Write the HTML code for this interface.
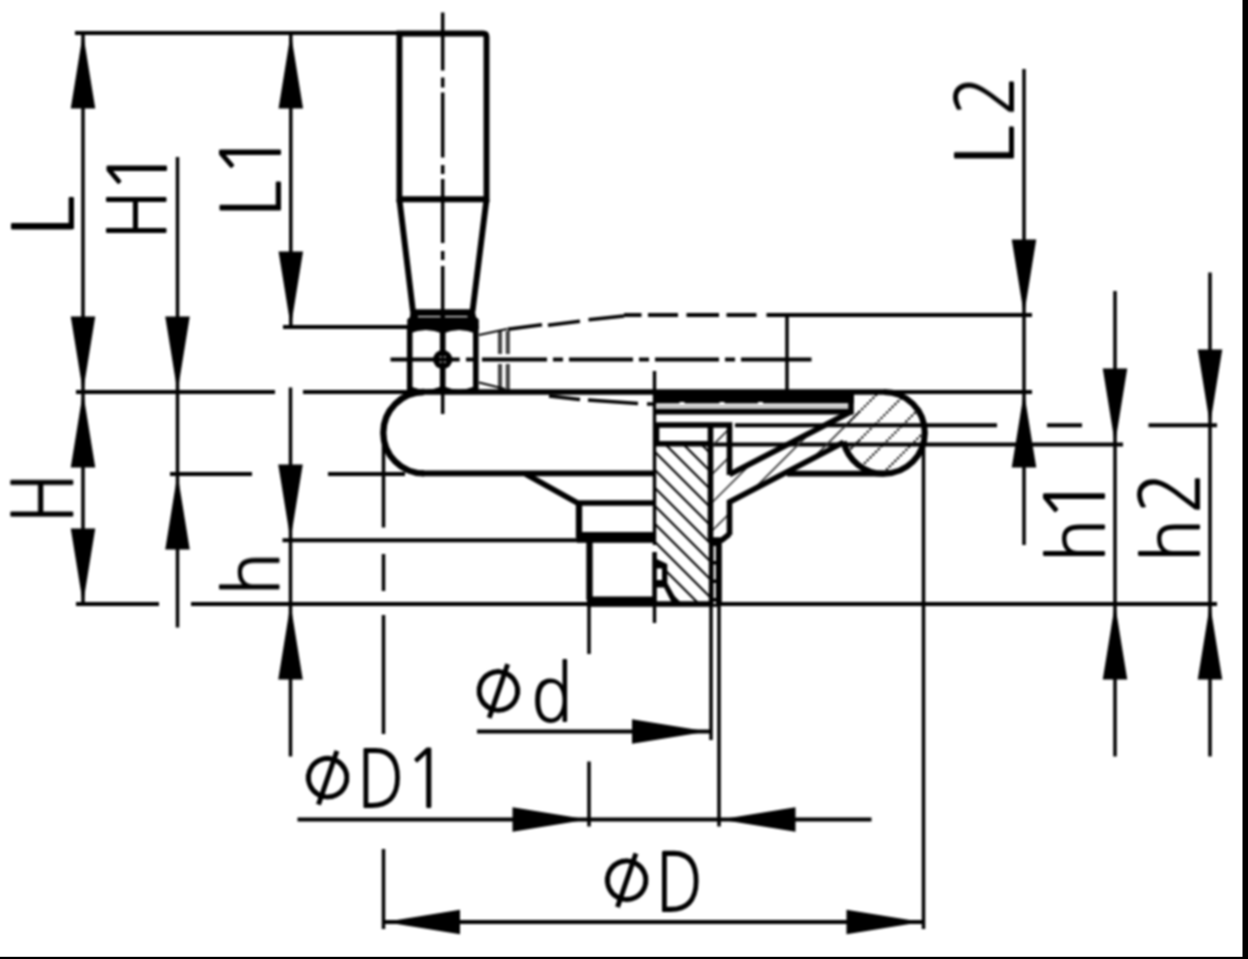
<!DOCTYPE html>
<html lang="en">
<head>
<meta charset="utf-8">
<title>Handwheel with folding handle – dimension drawing</title>
<style>
html,body{margin:0;padding:0;background:#fff;overflow:hidden}
body{width:1248px;height:959px}
svg{display:block;width:1248px;height:959px}
.t{stroke:#000;stroke-width:3.5;fill:none}
.th{stroke:#000;stroke-width:3.9;fill:none}
.k{stroke:#000;stroke-width:5.6;fill:none;stroke-linejoin:miter}
.h{stroke:#000;stroke-width:2.1;fill:none}
.h2{stroke:#333;stroke-width:1.7;fill:none}
.g{stroke:#444;stroke-width:4.2;fill:none}
.a{fill:#000;stroke:none}
.f{fill:#000;stroke:none}
.w{fill:#fff;stroke:none}
.lb{font-family:"NanumGothic","DejaVu Sans","Liberation Sans",sans-serif;font-size:80px;fill:#000}
.dia{font-family:"DejaVu Sans","Liberation Sans",sans-serif;fill:#000;stroke:#fff;stroke-width:0.7px;stroke-linejoin:round}
</style>
</head>
<body>
<svg width="1248" height="959" viewBox="0 0 1248 959" role="img" aria-label="Dimension drawing of a handwheel with folding handle">
<rect class="w" x="0" y="0" width="1248" height="959"/>
<defs>
<filter id="soft" x="0" y="0" width="1248" height="959" filterUnits="userSpaceOnUse" color-interpolation-filters="sRGB"><feConvolveMatrix order="5" kernelMatrix="1 3 4 3 1 3 9 12 9 3 4 12 16 12 4 3 9 12 9 3 1 3 4 3 1" divisor="144" edgeMode="duplicate" preserveAlpha="false"/></filter>
</defs>
<g filter="url(#soft)">
<text class="lb" transform="translate(73.5,229.3) rotate(-90)"><tspan x="-8.18" y="0" font-size="84.85" textLength="41.69" lengthAdjust="spacingAndGlyphs">L</tspan></text>
<text class="lb" transform="translate(166.6,233) rotate(-90)"><tspan x="-7.03" y="0" font-size="81.89" textLength="49.85" lengthAdjust="spacingAndGlyphs">H</tspan><tspan x="37.41" y="0" font-size="81.89" textLength="49.28" lengthAdjust="spacingAndGlyphs">1</tspan></text>
<text class="lb" transform="translate(281,210.5) rotate(-90)"><tspan x="-7.35" y="0" font-size="82.15" textLength="37.43" lengthAdjust="spacingAndGlyphs">L</tspan><tspan x="30.91" y="0" font-size="82.15" textLength="49.28" lengthAdjust="spacingAndGlyphs">1</tspan></text>
<text class="lb" transform="translate(1014,158.5) rotate(-90)"><tspan x="-8.11" y="0" font-size="81.48" textLength="41.31" lengthAdjust="spacingAndGlyphs">L</tspan><tspan x="42.58" y="0" font-size="80.67" textLength="40.94" lengthAdjust="spacingAndGlyphs">2</tspan></text>
<text class="lb" transform="translate(73.3,516.6) rotate(-90)"><tspan x="-7.18" y="0" font-size="84.71" textLength="50.96" lengthAdjust="spacingAndGlyphs">H</tspan></text>
<text class="lb" transform="translate(279,589.5) rotate(-90)"><tspan x="-6.82" y="0" font-size="75.24" textLength="44.65" lengthAdjust="spacingAndGlyphs">h</tspan></text>
<text class="lb" transform="translate(1105,556) rotate(-90)"><tspan x="-6.82" y="0" font-size="76.49" textLength="44.65" lengthAdjust="spacingAndGlyphs">h</tspan><tspan x="32.10" y="0" font-size="82.15" textLength="50.61" lengthAdjust="spacingAndGlyphs">1</tspan></text>
<text class="lb" transform="translate(1200,556) rotate(-90)"><tspan x="-6.82" y="0" font-size="77.12" textLength="44.65" lengthAdjust="spacingAndGlyphs">h</tspan><tspan x="42.12" y="0" font-size="82.00" textLength="42.42" lengthAdjust="spacingAndGlyphs">2</tspan></text>
<text class="lb"><tspan class="dia" font-size="84.5" x="484.89" y="720.96" rotate="-26">⌀</tspan><tspan x="530.68" y="721.5" font-size="78.62" rotate="0" textLength="41.93" lengthAdjust="spacingAndGlyphs">d</tspan></text>
<text class="lb"><tspan class="dia" font-size="84.5" x="314.09" y="807.76" rotate="-26">⌀</tspan><tspan x="357.28" y="808" font-size="81.75" rotate="0" textLength="47.60" lengthAdjust="spacingAndGlyphs">D</tspan><tspan x="403.85" y="808" font-size="81.75" rotate="0" textLength="45.28" lengthAdjust="spacingAndGlyphs">1</tspan></text>
<text class="lb"><tspan class="dia" font-size="84.5" x="613.09" y="910.36" rotate="-26">⌀</tspan><tspan x="655.76" y="911.5" font-size="83.50" rotate="0" textLength="47.73" lengthAdjust="spacingAndGlyphs">D</tspan></text>
<line class="t" x1="75" y1="33" x2="400" y2="33" style="stroke-width:4"/>
<polygon class="a" points="83,33 70.75,108.5 95.25,108.5"/>
<polygon class="a" points="83,392 70.75,316.5 95.25,316.5"/>
<polygon class="a" points="83,392 70.75,467.5 95.25,467.5"/>
<polygon class="a" points="83,604 70.75,528.5 95.25,528.5"/>
<line class="t" x1="83" y1="33" x2="83" y2="604"/>
<line class="th" x1="76" y1="392" x2="275" y2="392"/>
<line class="th" x1="303" y1="392" x2="409" y2="392"/>
<polygon class="a" points="177.5,392 165.25,316.5 189.75,316.5"/>
<polygon class="a" points="177.5,474 165.25,549.5 189.75,549.5"/>
<line class="t" x1="177.5" y1="157" x2="177.5" y2="627.5"/>
<line class="th" x1="170" y1="474" x2="252" y2="474"/>
<line class="th" x1="328" y1="474" x2="405" y2="474"/>
<polygon class="a" points="290.8,33 278.55,108.5 303.05,108.5"/>
<polygon class="a" points="290.8,327 278.55,251.5 303.05,251.5"/>
<line class="t" x1="290.8" y1="33" x2="290.8" y2="327"/>
<line class="th" x1="283" y1="327" x2="409" y2="327"/>
<polygon class="a" points="290.5,540 278.25,464.5 302.75,464.5"/>
<polygon class="a" points="290.5,604 278.25,679.5 302.75,679.5"/>
<line class="t" x1="290.5" y1="387.5" x2="290.5" y2="756.5"/>
<line class="th" x1="282.5" y1="540.3" x2="579" y2="540.3"/>
<line class="th" x1="76" y1="604" x2="159" y2="604"/>
<line class="th" x1="191" y1="604" x2="1217" y2="604"/>
<line class="t" x1="383.5" y1="440" x2="383.5" y2="527.5"/>
<line class="t" x1="383.5" y1="554" x2="383.5" y2="591"/>
<line class="t" x1="383.5" y1="615" x2="383.5" y2="734"/>
<line class="t" x1="383.5" y1="849" x2="383.5" y2="929"/>
<polygon class="a" points="384.5,922 460,909.75 460,934.25"/>
<polygon class="a" points="922,922 846.5,909.75 846.5,934.25"/>
<line class="th" x1="384" y1="922" x2="923" y2="922"/>
<line class="t" x1="923.5" y1="440" x2="923.5" y2="929"/>
<polygon class="a" points="588,819.5 512.5,807.25 512.5,831.75"/>
<polygon class="a" points="720,819.5 795.5,807.25 795.5,831.75"/>
<line class="th" x1="297.5" y1="819.5" x2="871.5" y2="819.5"/>
<line class="t" x1="589" y1="604" x2="589" y2="654"/>
<line class="t" x1="589" y1="761.5" x2="589" y2="826.5"/>
<polygon class="a" points="707.5,731.5 632,719.25 632,743.75"/>
<line class="th" x1="477" y1="731.5" x2="711" y2="731.5"/>
<line class="t" x1="711" y1="604" x2="711" y2="740"/>
<line class="t" x1="719" y1="604" x2="719" y2="826.5"/>
<polygon class="a" points="1024,315 1011.75,239.5 1036.25,239.5"/>
<polygon class="a" points="1024,392 1011.75,467.5 1036.25,467.5"/>
<line class="t" x1="1024" y1="69" x2="1024" y2="545"/>
<line class="th" x1="624" y1="315" x2="641.5" y2="315"/>
<line class="th" x1="648" y1="315" x2="678" y2="315"/>
<line class="th" x1="686.5" y1="315" x2="719" y2="315"/>
<line class="th" x1="726.5" y1="315" x2="756.5" y2="315"/>
<line class="th" x1="766.5" y1="315" x2="1032" y2="315"/>
<line class="th" x1="884" y1="392" x2="1032" y2="392"/>
<line class="t" x1="787" y1="315" x2="787" y2="392"/>
<polygon class="a" points="1115,444 1102.75,368.5 1127.25,368.5"/>
<polygon class="a" points="1115,604 1102.75,679.5 1127.25,679.5"/>
<line class="t" x1="1115" y1="291" x2="1115" y2="756.5"/>
<line class="t" x1="711" y1="444.6" x2="1123" y2="444.6" style="stroke-width:4"/>
<polygon class="a" points="1210,425 1197.75,349.5 1222.25,349.5"/>
<polygon class="a" points="1210,604 1197.75,679.5 1222.25,679.5"/>
<line class="t" x1="1210" y1="272.5" x2="1210" y2="756.5"/>
<line class="t" x1="735" y1="425.3" x2="997" y2="425.3" style="stroke-width:4"/>
<line class="th" x1="1047" y1="425.3" x2="1082" y2="425.3"/>
<line class="th" x1="1148.5" y1="425.3" x2="1217" y2="425.3"/>
<line class="t" x1="654.5" y1="371" x2="654.5" y2="545" style="stroke-width:3.4"/>
<line class="t" x1="654.5" y1="554" x2="654.5" y2="623" style="stroke-width:3.4"/>
<line class="t" x1="442.7" y1="12.5" x2="442.7" y2="70.5"/>
<line class="t" x1="442.7" y1="77.5" x2="442.7" y2="87.5"/>
<line class="t" x1="442.7" y1="92.5" x2="442.7" y2="157.5"/>
<line class="t" x1="442.7" y1="165" x2="442.7" y2="174"/>
<line class="t" x1="442.7" y1="179" x2="442.7" y2="243"/>
<line class="t" x1="442.7" y1="251" x2="442.7" y2="260"/>
<line class="t" x1="442.7" y1="266" x2="442.7" y2="330"/>
<path class="k" d="M399.4,199.3 L399.4,33.5 L483,33.5 Q486.5,33.5 486.5,37 L486.5,199.3 Z" style="stroke-width:5.9"/>
<path class="k" d="M399.4,199.3 L413,311.5 M486.5,199.3 L472.5,311.5" style="stroke-width:5.9"/>
<path class="f" d="M410.5,309.2 L474.5,309.2 L476,317 L478.8,319.5 L478.8,329 L407.2,329 L407.2,319.5 L410,317 Z"/>
<line class="t" x1="418" y1="316.6" x2="440.5" y2="316.6" style="stroke:#e8e8e8;stroke-width:1.3"/>
<line class="t" x1="445" y1="316.6" x2="467.5" y2="316.6" style="stroke:#e8e8e8;stroke-width:1.3"/>
<path class="k" d="M409.7,326 L409.7,392 M475.8,326 L475.8,392 M442.7,326 L442.7,392"/>
<path class="f" d="M409,328 L476,328 L476,333.5 Q459,326.5 442.7,333.5 Q426,326.5 409,333.5 Z"/>
<path class="f" d="M409,394 L476,394 L476,386 Q459,393 442.7,386 Q426,393 409,386 Z"/>
<circle class="f" cx="442.7" cy="359.5" r="9.6"/>
<rect class="w" x="439.6" y="356.4" width="2" height="2"/><rect class="w" x="443.8" y="356.4" width="2" height="2"/><rect class="w" x="439.6" y="360.6" width="2" height="2"/><rect class="w" x="443.8" y="360.6" width="2" height="2"/>
<line class="t" x1="442.7" y1="392" x2="442.7" y2="414"/>
<line class="th" x1="390.5" y1="359.5" x2="459.7" y2="359.5"/>
<line class="th" x1="466" y1="359.5" x2="474" y2="359.5"/>
<line class="th" x1="482" y1="359.5" x2="547" y2="359.5"/>
<line class="th" x1="553" y1="359.5" x2="563" y2="359.5"/>
<line class="th" x1="569" y1="359.5" x2="633" y2="359.5"/>
<line class="th" x1="639" y1="359.5" x2="649" y2="359.5"/>
<line class="th" x1="655" y1="359.5" x2="719" y2="359.5"/>
<line class="th" x1="725" y1="359.5" x2="735" y2="359.5"/>
<line class="th" x1="741" y1="359.5" x2="811.5" y2="359.5"/>
<line class="g" x1="500" y1="331" x2="500" y2="354"/>
<line class="g" x1="500" y1="364" x2="500" y2="390"/>
<line class="g" x1="507.8" y1="331" x2="507.8" y2="354"/>
<line class="g" x1="507.8" y1="364" x2="507.8" y2="390"/>
<path class="t" d="M479,335 L507,329" style="stroke-width:2.2"/>
<path class="t" d="M507.7,329.3 L542,324.8"/>
<path class="t" d="M548,325.3 L580,321.2"/>
<path class="t" d="M588.5,319.8 L624,316"/>
<path class="t" d="M479,382.5 L505,389" style="stroke-width:2.2"/>
<path class="t" d="M549,396 L580,399.6"/>
<path class="t" d="M588,400 L638,403.5"/>
<path class="t" d="M647,404 L654,404"/>
<path class="k" d="M409,392 L884,392"/>
<path class="k" d="M424,392 A40.6,40.6 0 0 0 424,473.4" style="stroke-width:6.3"/>
<path class="k" d="M422,473.4 L654,473.4"/>
<path class="k" d="M525.6,474 L577.5,503 L654,503"/>
<path class="k" d="M579,503 L579,538" style="stroke-width:6.3"/>
<rect class="f" x="577" y="532" width="77.5" height="10.8"/>
<path class="k" d="M589.5,542 L589.5,600" style="stroke-width:6.3"/>
<rect class="f" x="587" y="596.5" width="67.5" height="10.3"/>
<path class="k" d="M654,604 L720,604" style="stroke-width:5.4"/>
<clipPath id="c1"><polygon points="654.5,446 710.5,446 710.5,604 676,604 665,583 665,563 654.5,556"/></clipPath>
<g clip-path="url(#c1)">
<line class="h" x1="640" y1="599" x2="720" y2="679"/>
<line class="h" x1="640" y1="581" x2="720" y2="661"/>
<line class="h" x1="640" y1="563" x2="720" y2="643"/>
<line class="h" x1="640" y1="545" x2="720" y2="625"/>
<line class="h" x1="640" y1="527" x2="720" y2="607"/>
<line class="h" x1="640" y1="509" x2="720" y2="589"/>
<line class="h" x1="640" y1="491" x2="720" y2="571"/>
<line class="h" x1="640" y1="473" x2="720" y2="553"/>
<line class="h" x1="640" y1="455" x2="720" y2="535"/>
<line class="h" x1="640" y1="437" x2="720" y2="517"/>
<line class="h" x1="640" y1="419" x2="720" y2="499"/>
<line class="h" x1="640" y1="401" x2="720" y2="481"/>
<line class="h" x1="640" y1="383" x2="720" y2="463"/>
<line class="h" x1="640" y1="365" x2="720" y2="445"/>
<line class="h" x1="640" y1="347" x2="720" y2="427"/>
<line class="h" x1="640" y1="329" x2="720" y2="409"/>
<line class="h" x1="640" y1="311" x2="720" y2="391"/>
<line class="h" x1="640" y1="293" x2="720" y2="373"/>
</g>
<clipPath id="c2"><polygon points="711,427 729.5,427 729.5,473 850,412 854,392 884,392 884,473 843.6,442 727.5,502 729.5,535 722,540 711,540"/></clipPath>
<g clip-path="url(#c2)">
<line class="h2" x1="700" y1="429.7" x2="860" y2="269.7"/>
<line class="h2" x1="700" y1="458" x2="860" y2="298"/>
<line class="h2" x1="700" y1="486.3" x2="860" y2="326.3"/>
<line class="h2" x1="700" y1="514.6" x2="860" y2="354.6"/>
<line class="h2" x1="700" y1="542.9" x2="860" y2="382.9"/>
<line class="h2" x1="700" y1="571.2" x2="860" y2="411.2"/>
<line class="h2" x1="700" y1="599.5" x2="860" y2="439.5"/>
</g>
<clipPath id="c3"><circle cx="883.5" cy="432.5" r="40"/></clipPath>
<g clip-path="url(#c3)">
<line class="h" x1="820" y1="422.9" x2="940" y2="302.9" stroke-dasharray="2.4 1.5"/>
<line class="h" x1="820" y1="451.2" x2="940" y2="331.2" stroke-dasharray="2.4 1.5"/>
<line class="h" x1="820" y1="479.5" x2="940" y2="359.5" stroke-dasharray="2.4 1.5"/>
<line class="h" x1="820" y1="507.8" x2="940" y2="387.8" stroke-dasharray="2.4 1.5"/>
<line class="h" x1="820" y1="536.1" x2="940" y2="416.1" stroke-dasharray="2.4 1.5"/>
<line class="h" x1="820" y1="564.4" x2="940" y2="444.4" stroke-dasharray="2.4 1.5"/>
</g>
<rect class="f" x="654.5" y="390" width="199.5" height="13.4"/>
<rect class="w" x="679.5" y="402" width="5" height="3"/>
<rect class="w" x="719.5" y="402" width="5" height="3"/>
<rect class="w" x="758.0" y="402" width="5" height="3"/>
<rect x="657" y="405" width="191" height="3.8" style="fill:#c4c4c4"/>
<path class="k" d="M654.5,411.7 L851,411.7 L851,392"/>
<path class="k" d="M654.5,425 L729.5,425 L729.5,475 M654.5,443.7 L710.5,443.7 M656.5,425 L656.5,443.7"/>
<path class="k" d="M710.5,425 L710.5,540"/>
<path class="k" d="M729.5,474.5 L851,411.7"/>
<path class="k" d="M729.5,535 L729.5,502 L843.6,442.3"/>
<path class="k" d="M729.5,534 L722,540 L711,540"/>
<path class="k" d="M787,473.6 L884,473.6"/>
<path class="k" d="M884,392 A40.7,40.7 0 0 1 884,473.6 A40.7,40.7 0 0 1 843.6,441.5" style="stroke-width:6.1"/>
<rect class="f" x="708.8" y="540" width="13" height="64"/>
<line class="t" x1="714.7" y1="546" x2="714.7" y2="604" style="stroke:#fff;stroke-width:2.2" stroke-dasharray="15 3.5"/>
<path class="f" d="M652.3,552 L656.8,552 L656.8,559 L667.3,564 L667.3,583 L679,604 L672.5,604 L664,587.5 L656.8,587.5 L656.8,604 L652.3,604 Z"/>
<rect class="w" x="656.8" y="568.5" width="5.2" height="11.5"/>
</g>
<rect class="f" x="1242.5" y="0" width="5.5" height="959"/>
<rect class="f" x="0" y="956.8" width="1248" height="2.2"/>
</svg>
</body>
</html>
